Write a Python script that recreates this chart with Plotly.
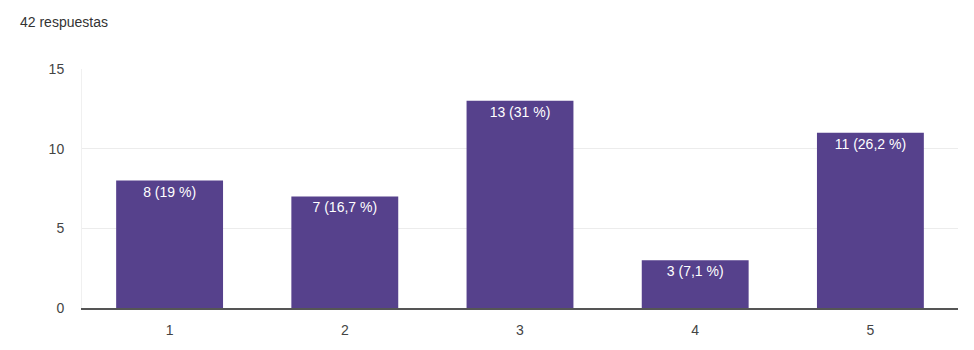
import plotly.graph_objects as go

categories = ["1", "2", "3", "4", "5"]
counts = [8, 7, 13, 3, 11]
labels = ["8 (19 %)", "7 (16,7 %)", "13 (31 %)", "3 (7,1 %)", "11 (26,2 %)"]
y_ticks = [0, 5, 10, 15]
title_text = "42 respuestas"

FONT = "Liberation Sans, Arial, sans-serif"

fig = go.Figure(go.Bar(
    x=categories, y=counts, text=labels,
    textposition="inside", insidetextanchor="end",
    textfont=dict(color="white", size=14, family=FONT),
    marker=dict(color="#56418c", line=dict(width=0)),
    textangle=0, cliponaxis=False,
))

fig.update_layout(
    width=974, height=350,
    margin=dict(l=82, r=16, t=69, b=42),
    paper_bgcolor="white", plot_bgcolor="white",
    bargap=0.39,
    showlegend=False,
    font=dict(family=FONT, size=13, color="#444"),
    annotations=[dict(
        text=title_text, xref="paper", yref="paper", x=(18 - 82) / 876, y=1 + 47 / 239,
        xanchor="left", yanchor="middle", showarrow=False,
        font=dict(size=14, color="#333", family=FONT),
    )],
    uniformtext=dict(minsize=8, mode="show"),
)
fig.update_yaxes(
    range=[0, 15], tickvals=y_ticks, showgrid=True, gridcolor="#ececec",
    zeroline=False, showline=True, linecolor="#f0f0f0", ticks="",
    ticklabelstandoff=14, tickfont=dict(size=14, color="#444", family=FONT),
)
fig.update_xaxes(
    showline=True, linecolor="#555", linewidth=1.5, ticks="",
    ticklabelstandoff=8, tickfont=dict(size=14, color="#444", family=FONT),
)

fig.write_html("out.html")
